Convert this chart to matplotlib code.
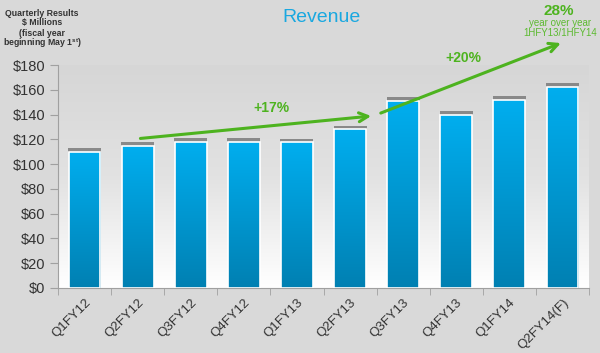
import matplotlib
matplotlib.use("Agg")
import matplotlib.pyplot as plt
import numpy as np
from matplotlib.colors import LinearSegmentedColormap

categories = ["Q1FY12", "Q2FY12", "Q3FY12", "Q4FY12", "Q1FY13",
              "Q2FY13", "Q3FY13", "Q4FY13", "Q1FY14", "Q2FY14(F)"]
revenue = [110, 114.5, 118, 118, 117.5, 128, 151, 140, 152, 162.5]
yticks = [0, 20, 40, 60, 80, 100, 120, 140, 160, 180]
ytick_labels = ["$" + str(v) for v in yticks]

plt.rcParams['font.family'] = ['Liberation Sans', 'DejaVu Sans']

fig = plt.figure(figsize=(6.0, 3.53), dpi=100, facecolor='#d9d9d9')
ax = fig.add_axes([58/600, 1-288/353, (589-58)/600, (288-65)/353])
ax.set_facecolor('#d9d9d9')

x = np.arange(len(categories))
ax.set_xlim(-0.5, len(categories) - 0.5)
ax.set_ylim(0, 180)

# background gradient (gray top -> white bottom)
bg_cmap = LinearSegmentedColormap.from_list('bg', ['#d6d6d6', '#e2e2e2', '#ffffff'])
grad = np.linspace(0, 1, 256).reshape(-1, 1)
ax.imshow(grad, aspect='auto', cmap=bg_cmap, extent=[-0.5, len(categories) - 0.5, 0, 180],
          origin='upper', zorder=0)

# shadow caps on top of bars
ax.bar(x, [3.0] * len(x), bottom=revenue, width=0.62, color='#6e6e6e', alpha=0.75,
       zorder=1, linewidth=0)

bar_cmap = LinearSegmentedColormap.from_list('bar', ['#0080b2', '#00aeef'])
bars = ax.bar(x, revenue, width=0.6, color='none', edgecolor='white', linewidth=1.2, zorder=3)
for b in bars:
    x0, w, h = b.get_x(), b.get_width(), b.get_height()
    im = ax.imshow(np.linspace(0, 1, 256).reshape(-1, 1), aspect='auto', cmap=bar_cmap,
                   extent=[x0, x0 + w, 0, h], origin='lower', zorder=2)
    im.set_clip_path(b)

ax.set_xlim(-0.5, len(categories) - 0.5)
ax.set_ylim(0, 180)

for s in ['top', 'right']:
    ax.spines[s].set_visible(False)
ax.spines['left'].set_color('#a0a0a0')
ax.spines['bottom'].set_color('#a0a0a0')
ax.set_yticks(yticks)
ax.set_yticklabels(ytick_labels, fontsize=10.5, color='#333333')
ax.tick_params(axis='y', length=6, color='#a0a0a0', pad=3)
ax.set_xticks(x)
ax.set_xticklabels(categories, rotation=45, ha='right', rotation_mode='anchor',
                   fontsize=9.5, color='#333333')
ax.tick_params(axis='x', which='major', length=0, pad=6)
ax.set_xticks(np.arange(-0.5, len(categories)), minor=True)
ax.tick_params(axis='x', which='minor', length=5, color='#a0a0a0')

green = '#4db31f'
ax.annotate('', xy=(5.45, 139), xytext=(1.0, 120.5),
            arrowprops=dict(arrowstyle='->', color=green, lw=2.2, mutation_scale=16),
            annotation_clip=False, zorder=5)
ax.annotate('', xy=(9.02, 198.5), xytext=(5.53, 140.4),
            arrowprops=dict(arrowstyle='->', color=green, lw=2.2, mutation_scale=16),
            annotation_clip=False, zorder=5)

ax.text(3.52, 145, '+17%', color=green, fontsize=10, fontweight='bold',
        ha='center', va='center', zorder=6)
ax.text(7.14, 185.5, '+20%', color=green, fontsize=10, fontweight='bold',
        ha='center', va='center', clip_on=False, zorder=6)

fig.text(559/600, 1-11/353, '28%', color=green, fontsize=11, fontweight='bold',
         ha='center', va='center')
fig.text(560/600, 1-23/353, 'year over year', color='#5cba30', fontsize=7,
         ha='center', va='center')
fig.text(560/600, 1-33/353, '1HFY13/1HFY14', color='#5cba30', fontsize=7,
         ha='center', va='center')

fig.text(322/600, 1-17/353, 'Revenue', color='#1aa8e0', fontsize=14,
         ha='center', va='center')

tl_lines = ['Quarterly Results', '$ Millions', '(fiscal year',
            'beginning May 1$^{\\mathregular{st}}$)']
for i, line in enumerate(tl_lines):
    fig.text(42/600, 1-(13 + 10*i)/353, line, color='#333333', fontsize=6.3,
             fontweight='bold', ha='center', va='center')

fig.savefig('out.png', dpi=100, facecolor=fig.get_facecolor())
